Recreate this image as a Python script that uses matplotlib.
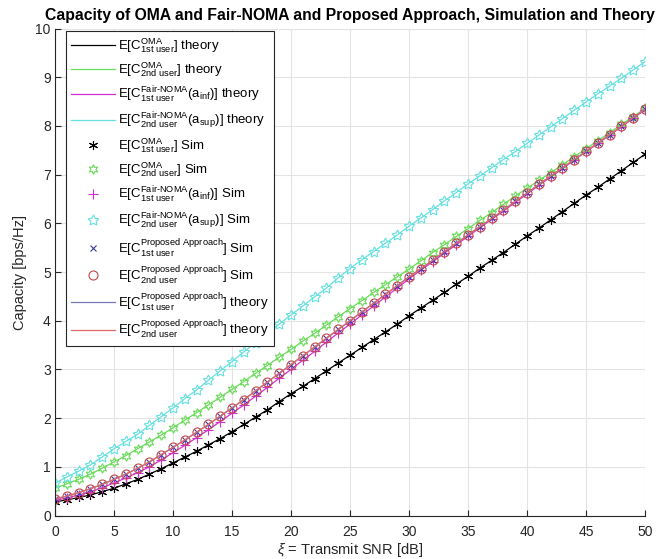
import matplotlib
matplotlib.use("Agg")
import matplotlib.pyplot as plt

plt.rcParams['font.family'] = ['Liberation Sans', 'DejaVu Sans']
plt.rcParams['mathtext.fontset'] = 'custom'
plt.rcParams['mathtext.rm'] = 'Liberation Sans'
plt.rcParams['mathtext.it'] = 'Liberation Sans:italic'
plt.rcParams['mathtext.bf'] = 'Liberation Sans:bold'

# transmit SNR in dB
snr_db = list(range(0, 51))

# values, one per dB
oma_1st = [0.28, 0.32, 0.37, 0.42, 0.49, 0.56, 0.65, 0.74, 0.85, 0.96,
           1.08, 1.20, 1.32, 1.45, 1.58, 1.72, 1.87, 2.02, 2.17, 2.34,
           2.50, 2.65, 2.81, 2.97, 3.13, 3.29, 3.45, 3.61, 3.77, 3.93,
           4.10, 4.26, 4.42, 4.58, 4.75, 4.91, 5.08, 5.24, 5.40, 5.57,
           5.74, 5.90, 6.07, 6.24, 6.41, 6.58, 6.74, 6.91, 7.08, 7.25, 7.42]
oma_2nd = [0.56, 0.65, 0.74, 0.85, 0.97, 1.10, 1.23, 1.37, 1.51, 1.65,
           1.80, 1.96, 2.11, 2.27, 2.43, 2.59, 2.75, 2.92, 3.08, 3.25,
           3.41, 3.58, 3.74, 3.91, 4.08, 4.25, 4.41, 4.58, 4.74, 4.90,
           5.06, 5.23, 5.40, 5.56, 5.73, 5.89, 6.06, 6.22, 6.39, 6.56,
           6.72, 6.88, 7.04, 7.20, 7.37, 7.53, 7.70, 7.86, 8.03, 8.19, 8.36]
fair_1st = [0.31, 0.36, 0.42, 0.49, 0.57, 0.67, 0.77, 0.88, 1.00, 1.14,
            1.29, 1.44, 1.60, 1.76, 1.93, 2.10, 2.27, 2.45, 2.63, 2.82,
            3.00, 3.19, 3.37, 3.56, 3.75, 3.93, 4.12, 4.30, 4.49, 4.67,
            4.86, 5.04, 5.21, 5.39, 5.56, 5.73, 5.91, 6.08, 6.25, 6.43,
            6.60, 6.78, 6.95, 7.12, 7.30, 7.47, 7.64, 7.81, 7.98, 8.16, 8.33]
fair_2nd = [0.66, 0.79, 0.91, 1.04, 1.20, 1.37, 1.52, 1.67, 1.85, 2.03,
            2.21, 2.40, 2.58, 2.78, 2.97, 3.16, 3.36, 3.55, 3.74, 3.93,
            4.12, 4.30, 4.49, 4.67, 4.88, 5.07, 5.25, 5.42, 5.59, 5.76,
            5.94, 6.11, 6.28, 6.46, 6.63, 6.81, 6.97, 7.14, 7.31, 7.47,
            7.64, 7.81, 7.98, 8.15, 8.32, 8.49, 8.66, 8.82, 8.98, 9.15, 9.32]
prop_1st = [0.34, 0.40, 0.47, 0.55, 0.64, 0.74, 0.85, 0.97, 1.10, 1.25,
            1.40, 1.55, 1.71, 1.87, 2.04, 2.21, 2.38, 2.56, 2.74, 2.92,
            3.10, 3.28, 3.46, 3.64, 3.82, 4.00, 4.18, 4.36, 4.54, 4.72,
            4.90, 5.07, 5.24, 5.42, 5.59, 5.76, 5.93, 6.10, 6.27, 6.45,
            6.62, 6.80, 6.97, 7.14, 7.31, 7.48, 7.65, 7.82, 7.99, 8.17, 8.34]
prop_2nd = [0.34, 0.40, 0.47, 0.55, 0.64, 0.74, 0.85, 0.97, 1.10, 1.25,
            1.40, 1.55, 1.71, 1.87, 2.04, 2.21, 2.38, 2.56, 2.74, 2.92,
            3.10, 3.28, 3.46, 3.64, 3.82, 4.00, 4.18, 4.36, 4.54, 4.72,
            4.90, 5.07, 5.24, 5.42, 5.59, 5.76, 5.93, 6.10, 6.27, 6.45,
            6.62, 6.80, 6.97, 7.14, 7.31, 7.48, 7.65, 7.82, 7.99, 8.17, 8.34]

x_ticks = [0, 5, 10, 15, 20, 25, 30, 35, 40, 45, 50]
y_ticks = [0, 1, 2, 3, 4, 5, 6, 7, 8, 9, 10]

c_black = '#000000'
c_green = '#6ADB5A'
c_mag = '#D030D0'
c_cyan = '#66E0E0'
c_xmark = '#3A3A9A'
c_omark = '#C04848'
c_prop1 = '#7878B8'
c_prop2 = '#E06868'


def lbl(sup, sub, arg, kind):
    s = r'E[$\mathrm{C}^{' + sup + r'}_{\mathrm{' + sub + r'}}'
    if arg:
        s += r'(\mathrm{a}_{\mathrm{' + arg + r'}})'
    return s + r'$] ' + kind


oma = r'\mathrm{OMA}'
fair = r'\mathrm{Fair}\text{-}\mathrm{NOMA}'
prop = r'\mathrm{Proposed\ Approach}'
u1 = r'1st\ user'
u2 = r'2nd\ user'

fig = plt.figure(figsize=(6.65, 5.59), dpi=100)
ax = fig.add_axes([0.0827, 0.0778, 0.8873, 0.8712])

lw = 0.9
ax.plot(snr_db, oma_1st, color=c_black, lw=lw, label=lbl(oma, u1, None, 'theory'))
ax.plot(snr_db, oma_2nd, color=c_green, lw=lw, label=lbl(oma, u2, None, 'theory'))
ax.plot(snr_db, fair_1st, color=c_mag, lw=lw, label=lbl(fair, u1, 'inf', 'theory'))
ax.plot(snr_db, fair_2nd, color=c_cyan, lw=lw, label=lbl(fair, u2, 'sup', 'theory'))

ax.plot(snr_db, oma_1st, ls='none', marker=(6, 2, 0), ms=6.5, mew=0.8,
        color=c_black, label=lbl(oma, u1, None, 'Sim'))
ax.plot(snr_db, oma_2nd, ls='none', marker=(6, 1, 0), ms=7, mew=0.8,
        mfc='none', mec=c_green, label=lbl(oma, u2, None, 'Sim'))
ax.plot(snr_db, fair_1st, ls='none', marker='+', ms=7, mew=0.8,
        color=c_mag, label=lbl(fair, u1, 'inf', 'Sim'))
ax.plot(snr_db, fair_2nd, ls='none', marker=(5, 1, 0), ms=8, mew=0.8,
        mfc='none', mec=c_cyan, label=lbl(fair, u2, 'sup', 'Sim'))
ax.plot(snr_db, prop_1st, ls='none', marker='x', ms=4.5, mew=0.8,
        color=c_xmark, label=lbl(prop, u1, None, 'Sim'))
ax.plot(snr_db, prop_2nd, ls='none', marker='o', ms=6.5, mew=0.8,
        mfc='none', mec=c_omark, label=lbl(prop, u2, None, 'Sim'))

ax.plot(snr_db, prop_1st, color=c_prop1, lw=lw, label=lbl(prop, u1, None, 'theory'))
ax.plot(snr_db, prop_2nd, color=c_prop2, lw=lw, label=lbl(prop, u2, None, 'theory'))

ax.set_xlim(0, 50)
ax.set_ylim(0, 10)
ax.set_xticks(x_ticks)
ax.set_yticks(y_ticks)
ax.grid(True, color='#e3e3e3', lw=0.8)
ax.set_axisbelow(True)
for side in ['top', 'right']:
    ax.spines[side].set_visible(False)
for side in ['left', 'bottom']:
    ax.spines[side].set_color('#262626')
    ax.spines[side].set_linewidth(0.8)
ax.tick_params(direction='in', length=4, width=0.8, colors='#262626', labelsize=10)
ax.tick_params(axis='x', pad=7)
ax.tick_params(axis='y', pad=3)

ax.set_title('Capacity of OMA and Fair-NOMA and Proposed Approach, Simulation and Theory',
             fontsize=11.3, fontweight='bold', pad=6)
ax.set_xlabel(r'$\xi$ = Transmit SNR [dB]', fontsize=10.5, color='#262626', labelpad=1)
ax.set_ylabel('Capacity [bps/Hz]', fontsize=10.5, color='#262626', labelpad=6)

leg = ax.legend(loc='upper left', bbox_to_anchor=(0.0186, 0.995), borderaxespad=0,
                fontsize=9.5, numpoints=1, handlelength=3.3, handletextpad=0.25,
                labelspacing=0.42, borderpad=0.4, fancybox=False, framealpha=1,
                edgecolor='#262626')
leg.get_frame().set_linewidth(0.8)

fig.savefig('out.png', dpi=100)
